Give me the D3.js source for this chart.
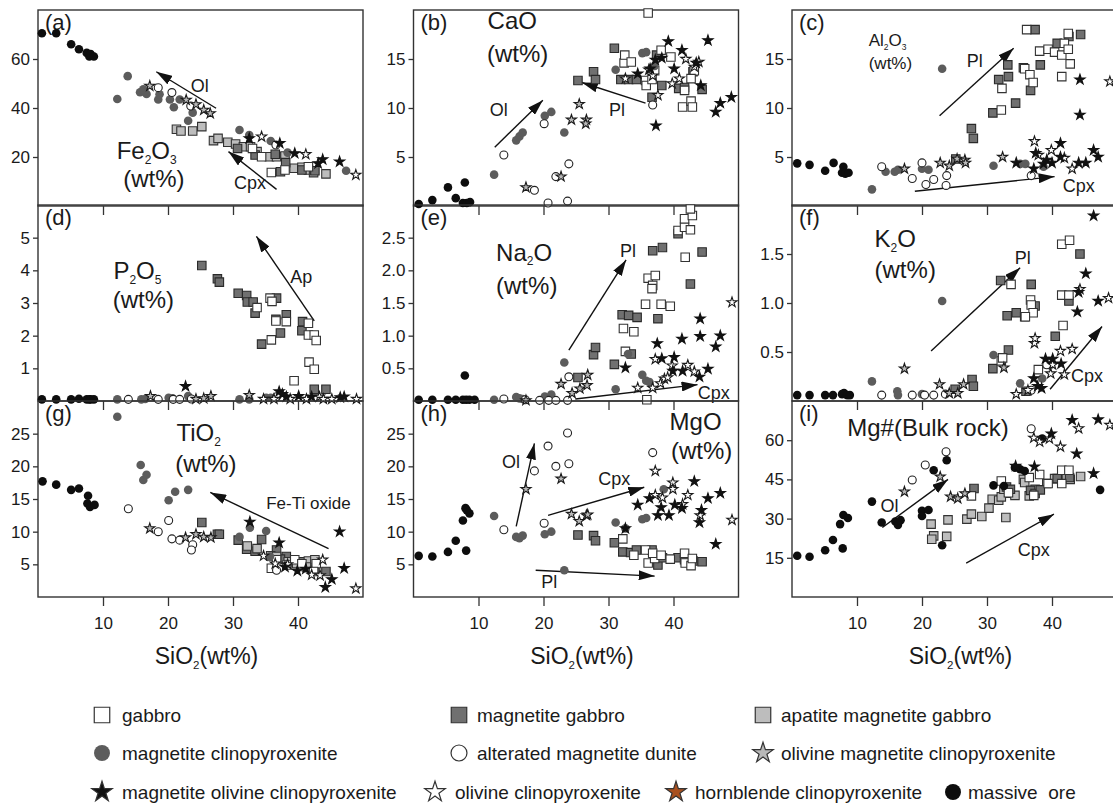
<!DOCTYPE html>
<meta charset="utf-8">
<script src="https://d3js.org/d3.v7.min.js"></script>
<style>
  body { margin: 0; background: #fff; }
  text { font-family: "Liberation Sans", Arial, sans-serif; fill: #1a1a1a; }
</style>
<div id="chart"></div>

<script>
    // ---------- data ----------
    // series codes
    // G gabbro, MG magnetite gabbro, AMG apatite magnetite gabbro,
    // MC magnetite clinopyroxenite, AMD alterated magnetite dunite,
    // OMC olivine magnetite clinopyroxenite, MOC magnetite olivine clinopyroxenite,
    // OC olivine clinopyroxenite, HC hornblende clinopyroxenite, MO massive ore
    const seriesCodes = ["G", "MG", "AMG", "MC", "AMD", "OMC", "MOC", "OC", "HC", "MO"];
    const seriesLabels = ["gabbro", "magnetite gabbro", "apatite magnetite gabbro",
        "magnetite clinopyroxenite", "alterated magnetite dunite", "olivine magnetite clinopyroxenite",
        "magnetite olivine clinopyroxenite", "olivine clinopyroxenite", "hornblende clinopyroxenite",
        "massive  ore"];

    const xTickValues = [10, 20, 30, 40];

    // (a) Fe2O3
    const fe2o3 = [
        ["AMG", [[21.3,31.3],[22,30.6],[23.8,30.6],[25.2,32.4],[27,26.7],[27.7,27.6],[29.2,26],[30.4,25.3],[31.6,24.2],[32.7,24.2],[33.7,22.2],[35.6,20.1],[36.7,20.1],[38,20.4],[39.4,15.4],[40.6,15.8],[41.6,14.7],[42.4,13.6],[44.3,13.1]]],
        ["MG", [[30.7,23.5],[33.4,20.8],[36.5,21.1],[37.3,14],[38.1,17.7],[40.6,14.7],[42.6,14.4]]],
        ["G", [[35.9,13.7],[38,14.7],[41.6,16],[34.4,20.1],[33,23.5]]],
        ["MC", [[12.2,43.7],[13.8,53],[15.7,46.4],[16.2,47.6],[16.7,45.7],[18.5,43.5],[18.7,45.6],[20.3,43.5],[20.9,40.3],[21.8,43.5],[23.1,34.8],[23.8,38.1],[31,31],[32.5,29],[35.8,26.5],[38.4,21.8],[47.4,14.4]]],
        ["AMD", [[18.5,48.3],[20.6,46.3],[23.5,40.8],[36.6,24.9]]],
        ["MO", [[0.6,70.5],[2.8,70.5],[5.1,66],[6.3,64],[7.5,62.5],[7.9,61],[8.1,62],[8.6,61]]],
        ["OMC", [[17.2,49],[22.8,43.3],[24.3,41.5],[25.5,39.2],[26.5,37.8]]],
        ["OC", [[34.4,28.3],[41.2,21.1],[48.9,12.7]]],
        ["MOC", [[32.5,27.6],[37.2,25.6],[39.5,21.5],[43.8,19],[43.1,17.4],[46.4,18.1]]]
    ];

    // (b) CaO
    const cao = [
        ["MG", [[25.3,12.8],[27.7,13.7],[28,12.9],[30.9,16.1],[31.9,12.9],[33.1,12.9],[34.3,12.9],[37.4,15.4],[38.2,12.3],[36.7,11.1],[40.8,12.0],[43,13.7],[44.4,11.9],[41.7,12.1]]],
        ["G", [[36.1,19.7],[32.4,14.6],[32.5,15.4],[33.5,14.7],[35.7,12.8],[35.8,12.3],[36.7,12.9],[37.1,13.8],[38.1,15.9],[39.6,15.2],[41.7,11.8],[43.2,13.8],[42.7,13.0],[41.4,10.1],[42.7,10.7],[42.9,10.1]]],
        ["MC", [[12.4,3.2],[15.8,6.7],[16.3,7.1],[16.8,7.5],[20.2,9.2],[21.2,9.6],[23.2,7.5],[31.1,13.9],[35.2,15.6],[35.8,15.7],[37.1,14.3]]],
        ["AMD", [[13.9,5.2],[20.1,8.4],[18.6,1.6],[21.9,3.0],[23.9,4.3],[20.7,0.3],[23.7,0.5],[36.8,10.3]]],
        ["MO", [[0.8,0.2],[2.9,0.6],[5.3,1.9],[6.5,0.8],[7.9,2.4],[7.6,0.3],[8.2,0.3],[8.7,0.4]]],
        ["OMC", [[17.3,1.9],[22.7,3.0],[25.5,10.4],[24.3,8.8],[26.6,8.8],[26.5,8.4]]],
        ["OC", [[32.6,13.0],[41.9,15.0],[43.9,14.7],[43.2,14.2],[40.9,13.0],[39.8,12.5],[36.8,13.3],[36.2,13.9],[37.6,11.3]]],
        ["MOC", [[37.3,8.2],[39.2,16.8],[41.3,15.9],[40.1,14.0],[34.5,13.5],[36.4,14.0],[37.2,14.9],[38.2,15.1],[43.5,14.6],[44.2,12.3],[45.3,16.9],[46.5,9.6],[47.2,10.5],[48.9,11.1]]]
    ];

    // (c) Al2O3
    const al2o3 = [
        ["MG", [[31.8,12.9],[33.3,13.2],[33.2,14.4],[34.4,10.5],[30.9,9.5],[27.6,7.9],[27.9,6.9],[37.4,18.0],[36.7,11.8],[38.2,14.4],[35.6,14.1],[40.8,16.6],[42.6,17.3],[44.4,17.5],[25.2,4.8]]],
        ["G", [[36.1,18.0],[32.3,12.0],[32.2,9.8],[35.8,14.0],[36.6,13.4],[37.1,12.6],[38.1,15.8],[39.4,16.0],[40.4,15.7],[41.5,15.4],[41.9,16.6],[42.5,17.6],[42.5,16.0],[42.8,14.5],[41.5,13.2]]],
        ["MC", [[12.3,1.7],[14.4,3.5],[15.8,3.5],[16.3,3.7],[20,3.8],[21,3.7],[23.1,14.0],[31,4.1],[35.1,4.3],[35.9,4.3],[38.7,4.0]]],
        ["AMD", [[13.8,4.0],[18.5,2.8],[20,4.4],[20.6,2.2],[21.8,2.7],[23.8,3.1],[23.7,2.1],[36.8,3.1]]],
        ["MO", [[0.8,4.35],[2.7,4.2],[5.1,3.6],[6.4,4.4],[7.9,4.0],[7.7,3.4],[8.2,3.3],[8.7,3.4]]],
        ["OMC", [[17.3,3.8],[22.8,4.4],[24.2,4.1],[25.4,4.8],[26.6,4.7],[26.7,4.4],[32.4,5.0]]],
        ["OC", [[37.3,6.6],[37.9,5.2],[39.9,5.7],[41.9,4.9],[43.1,3.8],[48.9,12.7]]],
        ["MOC", [[34.5,4.4],[37.2,3.8],[37.5,5.4],[38.7,4.3],[39.2,4.7],[40,4.4],[41.3,6.4],[41.3,5.0],[44.1,4.4],[45.2,4.4],[46.4,5.7],[47.1,5.0],[44.3,12.9],[44.3,9.3]]]
    ];

    // (d) P2O5
    const p2o5 = [
        ["MG", [[25.2,4.15],[27.6,3.74],[27.9,3.64],[30.8,3.3],[32.1,3.23],[32.2,3.03],[33.1,3.03],[33.4,2.69],[34.4,1.74],[36.7,3.15],[36.6,2.5],[37.3,2.08],[38.2,2.64],[40.7,2.43],[40.6,2.15],[42.5,0.36],[44.3,0.36]]],
        ["G", [[35.7,3.15],[36,3.05],[33.7,2.86],[35.9,1.87],[36.6,2.45],[38.2,2.43],[41.6,2.38],[41.6,2.02],[42.5,2.02],[42.8,1.85],[41.7,1.19],[42.5,0.97],[39.4,0.62]]],
        ["MC", [[12.2,0.05],[15.9,0.05],[16.5,0.06],[20.1,0.1],[20.7,0.08],[23.1,0.15],[31,0.05],[32.5,0.05],[35.1,0.1],[35.8,0.1]]],
        ["AMD", [[13.9,0.05],[18.5,0.05],[20.8,0.05],[21.8,0.05],[23.6,0.06],[36.7,0.13]]],
        ["MO", [[0.6,0.05],[2.8,0.05],[5.1,0.05],[6.3,0.07],[7.5,0.05],[7.9,0.05],[8.1,0.05],[8.6,0.05]]],
        ["OMC", [[17.3,0.15],[24.3,0.06],[25.5,0.08],[26.6,0.15],[32.5,0.18]]],
        ["OC", [[34.7,0.06],[36.3,0.06],[38.8,0.06],[41.3,0.06],[43.3,0.13],[43.9,0.06],[45.2,0.06],[49,0.06]]],
        ["MOC", [[22.7,0.45],[37.1,0.29],[37.6,0.21],[38.2,0.13],[40.1,0.15],[42.1,0.13],[46.5,0.11],[47.1,0.13]]]
    ];

    // (e) Na2O
    const na2o = [
        ["MG", [[25.3,0.36],[27.7,0.71],[28,0.82],[30.9,0.56],[32.1,1.32],[33.1,1.31],[34.4,1.28],[37.6,1.26],[36.8,2.3],[38.3,2.35],[40.7,2.56],[42.6,1.79],[44.4,2.28],[33.5,0.72]]],
        ["G", [[36.1,1.88],[37.2,1.92],[36.8,1.77],[36.7,1.72],[35.7,1.48],[38.1,1.48],[39.5,1.45],[32.3,1.11],[33.9,1.06],[32.6,0.76],[35.9,0.02],[40.7,2.61],[41.7,2.66],[42.6,2.62],[41.7,2.79],[42.9,2.84],[42.6,2.94],[41.8,2.2]]],
        ["MC", [[12.4,0.02],[15.8,0.06],[16.3,0.04],[16.8,0.03],[20.2,0.07],[21.2,0.1],[23.2,0.59],[31.1,0.18],[35.2,0.4],[35.8,0.31],[36.3,0.29],[33,0.72]]],
        ["AMD", [[13.9,0.03],[17.2,0.02],[19.4,0.01],[20.8,0.01],[21.9,0.01],[23.7,0.01],[23.9,0.37]]],
        ["MO", [[0.8,0.02],[2.9,0.02],[5.3,0.02],[6.5,0.02],[7.6,0.02],[8.1,0.02],[8.6,0.02],[9.4,0.02],[7.9,0.39]]],
        ["OMC", [[17.3,0.01],[22.7,0.26],[24.4,0.12],[25.6,0.19],[26.7,0.24],[26.8,0.4]]],
        ["OC", [[34.5,0.2],[36.8,0.2],[37.2,0.64],[38,0.27],[38.6,0.34],[39.1,0.36],[39.8,0.54],[42.2,0.55],[43.2,0.45],[49,1.51]]],
        ["MOC", [[32.6,0.51],[37.5,0.88],[38.2,0.65],[40.1,0.67],[41.3,0.95],[44.1,0.99],[44.1,1.26],[45.3,0.49],[46.5,0.83],[47.2,1.0],[39.9,0.46],[41.4,0.46],[44,0.37]]]
    ];

    // (f) K2O
    const k2o = [
        ["MG", [[32.1,1.23],[36.8,1.19],[37.4,0.97],[34.5,0.9],[33.1,0.87],[35.8,0.86],[33.3,0.52],[30.9,0.33],[27.7,0.22],[27.9,0.15],[25.1,0.12],[44.3,1.5],[42.6,1.02],[40.5,0.66],[36,0.1]]],
        ["G", [[33.7,1.19],[36.7,1.03],[36.8,0.98],[37.1,0.9],[35.9,0.86],[41.5,1.6],[42.7,1.64],[41.5,1.08],[42.6,1.08],[41.7,0.77],[32.2,0.41],[32.4,0.44],[37.9,0.32],[39.4,0.38]]],
        ["MC", [[12.3,0.2],[16.2,0.1],[16.3,0.06],[20,0.07],[23.1,1.02],[31,0.47],[35.1,0.18],[38.5,0.23]]],
        ["AMD", [[13.8,0.06],[18.5,0.06],[20.4,0.06],[21.8,0.06],[23.6,0.07],[36.8,0.11],[39.2,0.37]]],
        ["MO", [[0.8,0.06],[2.7,0.06],[5.1,0.06],[6.3,0.06],[7.7,0.07],[8,0.08],[8.5,0.06],[8.9,0.06]]],
        ["OMC", [[17.3,0.33],[22.7,0.17],[24.2,0.08],[25.5,0.08],[26.4,0.17],[32.6,0.34]]],
        ["OC", [[34.5,0.07],[36.3,0.11],[37.3,0.59],[37.4,0.64],[40.1,0.37],[39.8,0.28],[41.3,0.51],[43.1,0.53],[44.3,1.14],[48.7,1.05],[41.9,0.27]]],
        ["MOC", [[37.2,0.23],[37.8,0.15],[38.4,0.13],[39,0.43],[40.1,0.43],[41.4,0.38],[43.9,0.91],[44.1,1.11],[45.2,1.3],[46.4,1.89],[47.1,1.02]]]
    ];

    // (g) TiO2
    const tio2 = [
        ["MG", [[25.2,11.4],[27.6,9.6],[27.9,9.6],[30.8,8.7],[32.1,7.3],[33.4,7],[34.4,8.8],[36.7,7.2],[38.2,6.2],[40.6,5.4],[42.6,4.3],[44.3,3.9],[37.3,5.8]]],
        ["AMG", [[32.2,7.8],[33.7,7.4],[35.8,6.3],[36.7,6.2],[38.5,5.4],[39.8,5.1],[41.6,5.5],[42.6,5.7],[41.3,4.6]]],
        ["G", [[35.9,4.4],[36.7,5.7],[38.3,4.9],[39.5,5.7],[40.6,5.1],[42.8,5.1],[42.4,3.9]]],
        ["MC", [[12.2,27.6],[15.8,20.2],[16.2,17.9],[16.7,18.7],[20.1,14.8],[21.1,16.1],[23.1,16.4],[31,9.2],[32.6,10.6],[35.1,10.1],[35.7,6.2]]],
        ["AMD", [[13.9,13.5],[18.5,10],[20.1,11.7],[20.6,8.9],[21.8,8.7],[23.8,8],[23.6,7.2],[36.7,4.1]]],
        ["MO", [[0.7,17.7],[2.8,17.2],[5.1,16.4],[6.3,16.6],[7.7,15.5],[7.6,14.3],[8,13.8],[8.7,14.1]]],
        ["OMC", [[17.2,10.5],[22.7,9.1],[24.3,9.6],[25.5,9.2],[26.6,9.1]]],
        ["OC", [[34.7,6.3],[36.5,5.1],[38.4,5],[42.1,3.4],[43.4,3.3],[43.8,5.7],[48.9,1.3]]],
        ["MOC", [[32.6,11.5],[37.1,8.3],[38,4.6],[39.9,4],[41.2,4.3],[44.2,1.5],[45.2,2.7],[46.4,10],[47.1,4.4]]]
    ];

    // (h) MgO
    const mgo = [
        ["MG", [[25.3,9.5],[27.7,9.4],[28,8.6],[30.9,8.3],[32.2,6.9],[33.4,6.8],[34.3,7.2],[36.7,7.2],[37.6,4.9],[38.3,6.0],[40.7,6.0],[43,5.5],[44.4,5.4],[41.7,5.7]]],
        ["G", [[32.2,8.9],[33.9,6.4],[35.7,7.2],[36.1,5.2],[37.1,5.9],[36.8,6.7],[38.1,6.4],[39.5,5.8],[41.7,6.7],[41.8,5.2],[42.7,4.8],[42.9,5.9]]],
        ["MC", [[12.4,12.4],[15.8,9.2],[16.3,9.0],[16.8,9.4],[20.2,9.6],[21.2,10],[23.2,4.1],[31.1,11.4],[32.6,10.5],[35.2,11.9],[35.8,12.1],[38.5,16.5]]],
        ["AMD", [[13.9,10.3],[18.6,19.3],[20.7,23.1],[21.9,20],[23.7,25.1],[23.9,20.4],[20.1,11.3],[36.8,22.1]]],
        ["MO", [[0.8,6.3],[2.9,6.2],[5.3,6.9],[6.5,8.6],[7.6,11.7],[8,13.6],[8.1,7.1],[8.6,12.8],[8.2,13.3]]],
        ["OMC", [[17.3,16.5],[22.7,18.1],[24.3,12.7],[25.5,11.6],[26.6,12.5],[26.8,12.6]]],
        ["OC", [[37.2,19.3],[37.2,15.6],[38.3,15.2],[39.9,17.5],[39.9,16.5],[41.4,14.2],[42.2,15.6],[44.1,12.5],[49,11.8]]],
        ["MOC", [[32.6,10.5],[34.5,14.1],[36.3,15.1],[37.6,12.5],[38.1,13.7],[39.3,12.5],[40.2,14.1],[41.3,13.6],[43.2,17.7],[44.3,13.3],[44,11.4],[45.3,15.1],[46.5,8.1],[47.2,15.9]]]
    ];

    // (i) Mg# (bulk rock)
    const mgNumber = [
        ["AMG", [[21.4,27.9],[21.8,23.4],[21.5,22.1],[23.8,23.2],[24,29.5],[26.9,29.8],[27.6,31.7],[29.2,30.8],[30.3,34],[30.8,37.4],[31.8,37],[32.2,38.3],[32.6,41.2],[32.9,30.4],[33.5,39.7],[34.3,38.9],[35.6,45],[35.8,43.8],[36.9,40.6],[36.5,38.7],[37.4,41.2],[39.2,43.4],[40.4,45.3],[42.3,46.1],[42.8,45],[44.4,46.1]]],
        ["MG", [[28,41.5],[33,42.1],[33.6,41.2],[36.7,40.8],[37.4,39.6],[38.2,41],[40.8,45.3],[42.7,45.7]]],
        ["G", [[32.2,44.4],[33.3,39.9],[36.5,45.7],[38.1,46.9],[39.4,43.4],[41.5,48.5],[42.6,48.5],[41.5,43.4],[37.2,38.9],[27.6,38.7]]],
        ["AMD", [[18.5,44.8],[20.5,50.5],[23.7,55.6],[36.8,64.4]]],
        ["MO", [[0.8,15.8],[2.7,15.4],[5.1,17.9],[6.3,21.8],[7.4,27.9],[7.9,31.4],[7.8,18.6],[8.6,30.2],[12.3,36.5],[13.8,28.5],[15.9,28.9],[16.3,27.6],[16.7,29.4],[20,33],[20,31],[21,33.3],[21.8,48.5],[23.8,52.3],[23.1,19.8],[31,42.7],[32.6,42.5],[34.3,49.5],[35.1,48.9],[35.8,48.2],[38.5,60.6],[47.4,41]]],
        ["OMC", [[17.3,40.3],[22.8,46],[24.4,38.4],[25.5,37.7],[26.6,39.6]]],
        ["OC", [[37.2,60.9],[38.1,59.4],[39.6,60.6],[41.3,57.5],[44.1,64.5],[48.9,65.8]]],
        ["MOC", [[34.4,50.1],[37.3,49.9],[39.9,62.5],[43.1,67.7],[43.8,54.8],[46.4,47.3],[47.1,67.9]]]
    ];

    const panelIds = ["a", "b", "c", "d", "e", "f", "g", "h", "i"];
    const panelData = [fe2o3, cao, al2o3, p2o5, na2o, k2o, tio2, mgo, mgNumber];
    const yMax = [80, 20, 20, 6, 3, 2, 30, 30, 75];
    const yTicks = [[20, 40, 60], [5, 10, 15], [5, 10, 15], [1, 2, 3, 4, 5],
        [0.5, 1.0, 1.5, 2.0, 2.5], [0.5, 1.0, 1.5], [5, 10, 15, 20, 25], [5, 10, 15, 20, 25], [15, 30, 45, 60]];

    // element labels: panel, text ("_" = subscript char), x, y (data units, left/baseline)
    const elementLabels = [
        ["a", "Fe_2O_3", 12.1, 19.3], ["a", "(wt%)", 13.1, 7.6],
        ["b", "CaO", 11.4, 18.1], ["b", "(wt%)", 11.3, 14.7],
        ["c", "Al_2O_3", 11.8, 16.3], ["c", "(wt%)", 11.8, 14.0],
        ["d", "P_2O_5", 11.6, 3.72], ["d", "(wt%)", 11.5, 2.86],
        ["e", "Na_2O", 12.7, 2.15], ["e", "(wt%)", 12.7, 1.64],
        ["f", "K_2O", 12.7, 1.57], ["f", "(wt%)", 12.7, 1.26],
        ["g", "TiO_2", 21.3, 23.9], ["g", "(wt%)", 21.1, 19.2],
        ["h", "MgO", 39.4, 25.6], ["h", "(wt%)", 39.6, 21.1],
        ["i", "Mg#(Bulk rock)", 8.5, 61.6]
    ];

    // trend arrows: panel, x1, y1, x2 (head), y2 (head)
    const arrows = [
        ["a", 27.4, 39.9, 18.2, 54.8], ["a", 36.7, 6.8, 29.3, 22.2],
        ["b", 12.5, 6.0, 19.9, 10.8], ["b", 35.7, 10.5, 25.9, 12.6],
        ["c", 22.7, 9.2, 34.1, 16.1], ["c", 18.9, 1.5, 40.4, 3.0],
        ["d", 42.5, 2.45, 33.6, 5.04],
        ["e", 23.9, 0.78, 32.7, 2.16], ["e", 24.9, 0.03, 43.7, 0.25],
        ["f", 21.4, 0.51, 35.1, 1.36], ["f", 39.7, 0.12, 47.7, 0.76],
        ["g", 44.7, 7.4, 26.5, 16.0],
        ["h", 15.8, 10.8, 18.6, 23.5], ["h", 20.7, 12.5, 35.5, 16.8], ["h", 18.8, 4.1, 37.1, 3.2],
        ["i", 13.9, 26.6, 24, 45], ["i", 26.8, 13, 40.3, 31.7]
    ];
    // arrow labels: panel, text, x, y (centre)
    const arrowLabels = [
        ["a", "Ol", 24.9, 49], ["a", "Cpx", 32.6, 9.5],
        ["b", "Ol", 13.1, 9.8], ["b", "Pl", 31.3, 9.8],
        ["c", "Pl", 28.1, 14.8], ["c", "Cpx", 44.1, 2.0],
        ["d", "Ap", 40.5, 3.8],
        ["e", "Pl", 33, 2.29], ["e", "Cpx", 46.2, 0.12],
        ["f", "Pl", 35.5, 1.46], ["f", "Cpx", 45.4, 0.26],
        ["g", "Fe-Ti oxide", 41.6, 14.3],
        ["h", "Ol", 15, 20.7], ["h", "Cpx", 30.9, 18.1], ["h", "Pl", 20.9, 2.3],
        ["i", "Ol", 15, 34.9], ["i", "Cpx", 37.2, 18.1]
    ];

    // ---------- layout ----------
    const width = 1113, height = 805;
    const colLeft = [38, 413.5, 792], rowTop = [10, 205, 401];
    const pw = 325, ph = 196;

    const svg = d3.select("#chart")
        .append("svg")
        .attr("width", width)
        .attr("height", height);

    const defs = svg.append("defs");
    defs.append("marker")
        .attr("id", "head")
        .attr("markerUnits", "userSpaceOnUse")
        .attr("viewBox", "0 0 16 10")
        .attr("refX", 16).attr("refY", 5)
        .attr("markerWidth", 16).attr("markerHeight", 10)
        .attr("orient", "auto")
        .append("path")
        .attr("d", "M0,0 L16,5 L0,10 Z")
        .attr("fill", "#111");

    // marker styles per series
    function style(code) {
        switch (code) {
            case "G": return {shape: d3.symbolSquare, size: 72, fill: "#fff", stroke: "#333"};
            case "MG": return {shape: d3.symbolSquare, size: 72, fill: "#707070", stroke: "#2a2a2a"};
            case "AMG": return {shape: d3.symbolSquare, size: 72, fill: "#bdbdbd", stroke: "#333"};
            case "MC": return {shape: d3.symbolCircle, size: 58, fill: "#5c5c5c", stroke: "none"};
            case "AMD": return {shape: d3.symbolCircle, size: 50, fill: "#fff", stroke: "#222"};
            case "OMC": return {shape: d3.symbolStar, size: 32, fill: "#b8b8b8", stroke: "#1a1a1a"};
            case "MOC": return {shape: d3.symbolStar, size: 32, fill: "#111", stroke: "#111"};
            case "OC": return {shape: d3.symbolStar, size: 32, fill: "#fff", stroke: "#1a1a1a"};
            case "HC": return {shape: d3.symbolStar, size: 32, fill: "#a8501f", stroke: "#4a2410"};
            default: return {shape: d3.symbolCircle, size: 58, fill: "#0d0d0d", stroke: "none"};
        }
    }

    // text with "_x" subscripts
    function richText(sel, str, size) {
        const parts = str.split(/(_.)/).filter(p => p.length);
        let sub = false;
        parts.forEach(p => {
            if (p[0] === "_") {
                sel.append("tspan").attr("dy", size * 0.2).attr("font-size", size * 0.5).text(p[1]);
                sub = true;
            } else {
                sel.append("tspan").attr("dy", sub ? -size * 0.2 : 0).text(p);
                sub = false;
            }
        });
    }

    const fmt1 = d3.format(".1f"), fmt0 = d3.format("d");

    panelIds.forEach((id, i) => {
        const col = i % 3, row = Math.floor(i / 3);
        const g = svg.append("g")
            .attr("transform", `translate(${colLeft[col]}, ${rowTop[row]})`);

        const x = d3.scaleLinear().domain([0, 50]).range([0, pw]);
        const y = d3.scaleLinear().domain([0, yMax[i]]).range([ph, 0]);

        // frame
        g.append("rect")
            .attr("width", pw).attr("height", ph)
            .attr("fill", "none").attr("stroke", "#333").attr("stroke-width", 1.4);

        // y axis
        const yAxis = g.append("g")
            .call(d3.axisLeft(y).tickValues(yTicks[i]).tickSize(5).tickPadding(3)
                .tickFormat(id === "e" || id === "f" ? fmt1 : fmt0));
        yAxis.select(".domain").remove();
        yAxis.selectAll("text").attr("font-size", 17).attr("fill", "#1a1a1a")
            .attr("font-family", "Liberation Sans, Arial, sans-serif");
        yAxis.selectAll("line").attr("stroke", "#333").attr("stroke-width", 1.3);

        // x axis
        const xAxis = g.append("g")
            .attr("transform", `translate(0, ${ph})`)
            .call(d3.axisBottom(x).tickValues(xTickValues).tickSize(9).tickPadding(11)
                .tickFormat(row === 2 ? fmt0 : () => ""));
        xAxis.select(".domain").remove();
        xAxis.selectAll("text").attr("font-size", 17).attr("fill", "#1a1a1a")
            .attr("font-family", "Liberation Sans, Arial, sans-serif");
        xAxis.selectAll("line").attr("stroke", "#333").attr("stroke-width", 1.3);

        if (row === 2) {
            const t = g.append("text")
                .attr("x", x(25) + 6).attr("y", ph + 67)
                .attr("text-anchor", "middle")
                .attr("font-size", 23);
            richText(t, "SiO_2(wt%)", 23);
        }

        // panel label
        g.append("text").attr("x", 7).attr("y", 20).attr("font-size", 22).text(`(${id})`);

        // element labels
        elementLabels.filter(d => d[0] === id).forEach(d => {
            const fs = id === "c" ? 17 : 24;
            const t = g.append("text").attr("x", x(d[2])).attr("y", y(d[3])).attr("font-size", fs);
            richText(t, d[1], fs);
        });

        // arrows
        g.selectAll(".arrow")
            .data(arrows.filter(d => d[0] === id))
            .join("line")
            .attr("x1", d => x(d[1])).attr("y1", d => y(d[2]))
            .attr("x2", d => x(d[3])).attr("y2", d => y(d[4]))
            .attr("stroke", "#111").attr("stroke-width", 1.4)
            .attr("marker-end", "url(#head)");

        g.selectAll(".alabel")
            .data(arrowLabels.filter(d => d[0] === id))
            .join("text")
            .attr("x", d => x(d[2])).attr("y", d => y(d[3]))
            .attr("text-anchor", "middle")
            .attr("dominant-baseline", "central")
            .attr("font-size", d => d[1].length > 4 ? 17 : 18)
            .text(d => d[1]);

        // points
        panelData[i].forEach(([code, pts]) => {
            const s = style(code);
            g.append("g").selectAll("path")
                .data(pts)
                .join("path")
                .attr("transform", d => `translate(${x(d[0])}, ${y(d[1])})`)
                .attr("d", d3.symbol(s.shape, s.size))
                .attr("fill", s.fill)
                .attr("stroke", s.stroke)
                .attr("stroke-width", 1.1);
        });
    });

    // ---------- legend ----------
    const legendPos = [[102, 715], [459, 715], [763, 715],
        [102, 753], [459, 753], [763, 753],
        [102, 792], [435, 792], [676, 792], [953, 792]];
    const legendTextGap = [20, 18, 18, 20, 18, 18, 20, 20, 19, 15];

    const legend = svg.append("g");
    seriesCodes.forEach((code, k) => {
        const s = style(code);
        const [lx, ly] = legendPos[k];
        const big = s.shape === d3.symbolSquare ? 240 : s.shape === d3.symbolCircle ? 200 : 130;
        legend.append("path")
            .attr("transform", `translate(${lx}, ${ly})`)
            .attr("d", d3.symbol(s.shape, big))
            .attr("fill", s.fill)
            .attr("stroke", s.stroke === "none" ? "none" : "#333")
            .attr("stroke-width", 1.2);
        legend.append("text")
            .attr("x", lx + legendTextGap[k])
            .attr("y", ly + 7)
            .attr("font-size", 19)
            .attr("xml:space", "preserve")
            .style("white-space", "pre")
            .text(seriesLabels[k]);
    });
</script>
